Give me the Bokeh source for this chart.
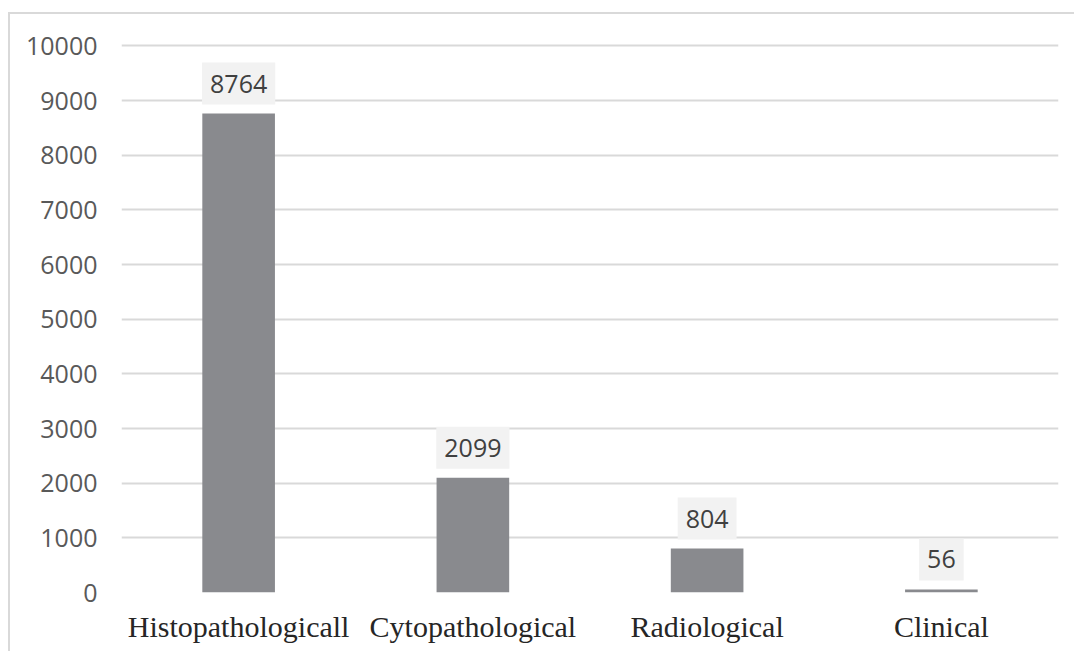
from bokeh.plotting import figure
from bokeh.models import ColumnDataSource, Range1d, FactorRange, SingleIntervalTicker
from bokeh.core.properties import value
from bokeh.embed import file_html
from bokeh.resources import INLINE

categories = ["Histopathologicall", "Cytopathological", "Radiological", "Clinical"]
counts = [8764, 2099, 804, 56]
labels = [str(c) for c in counts]

src = ColumnDataSource(dict(cat=categories, val=counts, lab=labels))

p = figure(x_range=FactorRange(*categories), y_range=Range1d(0, 10100),
           width=1066, height=639, output_backend="svg", toolbar_location=None,
           min_border_left=111, min_border_right=18, min_border_top=26, min_border_bottom=61)
p.styles = {"border-top": "2px solid #d9d9d9", "border-left": "2px solid #d9d9d9",
            "margin-top": "12px", "margin-left": "8px"}
p.outline_line_color = None
p.background_fill_color = "white"

p.vbar(x="cat", top="val", width=0.31, source=src, fill_color="#898a8e", line_color=None)
p.text(x="cat", y="val", text="lab", source=src, y_offset=-30,
       text_align="center", text_baseline="middle",
       text_font=value("Open Sans"), text_font_size="25px", text_color="#404040",
       background_fill_color="#f2f2f2", padding=(8, 12))

p.xgrid.grid_line_color = None
p.ygrid.grid_line_color = "#d9d9d9"
p.ygrid.grid_line_width = 2
p.yaxis.ticker = SingleIntervalTicker(interval=1000)

for ax in (p.xaxis, p.yaxis):
    ax.axis_line_color = None
    ax.major_tick_line_color = None
    ax.minor_tick_line_color = None
    ax.major_tick_out = 0
    ax.minor_tick_out = 0

p.yaxis.major_label_standoff = 24
p.yaxis.major_label_text_font = "Open Sans"
p.yaxis.major_label_text_font_size = "25px"
p.yaxis.major_label_text_color = "#595959"

p.xaxis.major_label_standoff = 17
p.xaxis.major_label_text_font = "Liberation Serif"
p.xaxis.major_label_text_font_size = "30px"
p.xaxis.major_label_text_color = "#262626"

open("out.html", "w").write(file_html(p, INLINE))
